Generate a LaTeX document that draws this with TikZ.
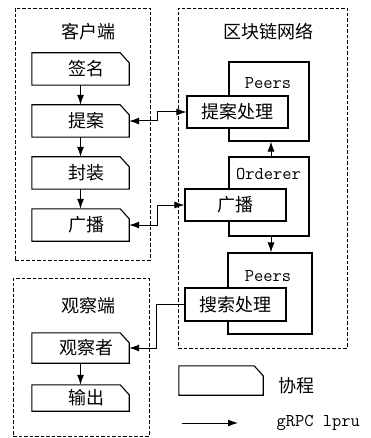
\documentclass[tikz,border=0pt]{standalone}
\usepackage{fontspec}
\newfontfamily\cjk{Noto Sans CJK SC}
\usetikzlibrary{arrows.meta}
\begin{document}
\begin{tikzpicture}[x=1pt,y=-1pt,
  every node/.style={font=\fontsize{18}{21}\selectfont\cjk},
  area/.style={draw,dashed,dash pattern=on 3.5pt off 2pt,line width=0.9pt},
  proc/.style={inner sep=0pt,minimum width=97pt,minimum height=32pt},
  box/.style={draw,line width=1.1pt,inner sep=0pt},
  inbox/.style={box,fill=white,minimum width=101pt,minimum height=32pt},
  tt/.style={font=\fontsize{18}{20}\selectfont\ttfamily},
  tip/.style={},
  conn/.style={line width=1pt,-{Latex[length=10pt,width=7pt]}},
  dconn/.style={line width=1pt,{Latex[length=10pt,width=7pt]}-{Latex[length=10pt,width=7pt]}},
  pshape/.style={draw,line width=1.1pt}
]
\useasboundingbox (0,0) rectangle (370,438);
\def\cut#1{\draw[pshape] (#1.south west) -- (#1.north west) -- ([xshift=-9pt]#1.north east) -- ([yshift=-10pt]#1.north east) -- (#1.south east) -- cycle;}

% areas
\node[area,inner sep=0pt,minimum width=135pt,minimum height=252pt] (client) at (82.5,134) {};
\node[area,inner sep=0pt,minimum width=169pt,minimum height=340pt] (chain) at (262.5,178) {};
\node[area,inner sep=0pt,minimum width=136pt,minimum height=158pt] (obs) at (81,357) {};
\node (ct) at (88,32) {客户端};
\node (bt) at (268,32) {区块链网络};
\node (ot) at (88,306) {观察端};

% client processes
\node[proc] (qm) at (80.5,69) {\hspace{12pt}签名};
\node[proc] (ta) at (80.5,121) {\hspace{12pt}提案};
\node[proc] (fz) at (80.5,173) {\hspace{12pt}封装};
\node[proc] (gb) at (80.5,225) {\hspace{12pt}广播};
\cut{qm}\cut{ta}\cut{fz}\cut{gb}

% observer processes
\node[proc,minimum height=30pt] (gcz) at (80.5,348) {\hspace{12pt}观察者};
\node[proc,minimum height=26pt] (sc) at (80.5,398) {\hspace{12pt}输出};
\cut{gcz}\cut{sc}

% blockchain boxes
\node[box,minimum width=80pt,minimum height=79pt] (p1) at (269,101.5) {};
\node[tt] (p1t) at (268,83) {Peers};
\node[inbox] (tacl) at (237.5,112) {提案处理};

\node[box,minimum width=80pt,minimum height=79pt] (ord) at (269,196.5) {};
\node[tt] (ordt) at (268.5,174) {Orderer};
\node[inbox] (gb2) at (235.5,205) {广播};

\node[box,minimum width=84pt,minimum height=81pt] (p2) at (270,293.5) {};
\node[tt] (p2t) at (268,276) {Peers};
\node[inbox,minimum height=33pt] (sscl) at (235.5,304.5) {搜索处理};

% connectors
\draw[conn] (qm) -- (ta);
\draw[conn] (ta) -- (fz);
\draw[conn] (fz) -- (gb);
\draw[conn] (gcz) -- (sc);
\draw[dconn] (ta.east) -- ++(28,0) |- (tacl.west);
\draw[dconn] (gb.east) -- ++(28,0) |- (gb2.west);
\draw[conn] ([xshift=2pt]ord.north) -- ([xshift=2pt]p1.south);
\draw[conn] ([xshift=2pt]ord.south) -- ([xshift=1pt]p2.north);
\draw[conn] (sscl.west) -- ++(-28,0) |- (gcz.east);

% legend
\node[proc,minimum width=84pt,minimum height=29pt] (lg) at (221,380.5) {};
\cut{lg}
\node (lgt) at (296,386) {协程};
\coordinate (la) at (182,423);
\coordinate (lb) at (238,423);
\draw[conn] (la) -- (lb);
\node[tt,anchor=west] (lgr) at (273,423) {gRPC lpru};
\end{tikzpicture}
\end{document}
